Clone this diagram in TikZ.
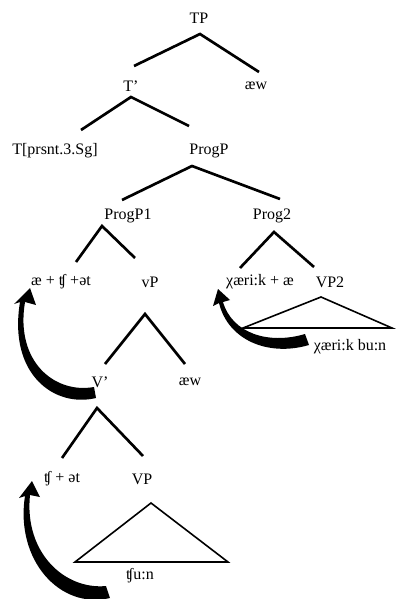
\documentclass[tikz,border=0pt]{standalone}
\usepackage{fontspec}
\setmainfont{Liberation Serif}
\begin{document}
\begin{tikzpicture}[x=0.75pt,y=-0.75pt,
  lab/.style={inner sep=1pt,font=\fontsize{12}{14}\selectfont},
  branch/.style={line width=2pt},
  tri/.style={line width=1.2pt},
  mover/.style={fill=black,draw=none}]
\useasboundingbox (0,0) rectangle (397,599);
% labels
\node[lab] (tp) at (199,18) {TP};
\node[lab] (tbar) at (131,86) {T’};
\node[lab] (aew1) at (256,86) {æw};
\node[lab] (t) at (55,151) {T[prsnt.3.Sg]};
\node[lab] (progp) at (209,151) {ProgP};
\node[lab] (progp1) at (128,216) {ProgP1};
\node[lab] (prog2) at (272,216) {Prog2};
\node[lab] (aech) at (61,282) {æ + ʧ +ət};
\node[lab] (vp) at (150,282) {vP};
\node[lab] (chaeri) at (260,282) {χæri:k + æ};
\node[lab] (vp2) at (330,282) {VP2};
\node[lab] (chbun) at (350,347) {χæri:k bu:n};
\node[lab] (vbar) at (100,382) {V’};
\node[lab] (aew2) at (190,382) {æw};
\node[lab] (chat) at (62,479) {ʧ + ət};
\node[lab] (vpl) at (142,479) {VP};
\node[lab] (chun) at (140,576) {ʧu:n};
% branch points
\coordinate (a1) at (200,34);
\coordinate (a2) at (131,97);
\coordinate (a3) at (192,166);
\coordinate (a4) at (102,226);
\coordinate (a5) at (274,232);
\coordinate (a6) at (145,314);
\coordinate (a7) at (97,408);
\draw[branch] (134,66) -- (a1) -- (259,72);
\draw[branch] (81,130) -- (a2) -- (189,126);
\draw[branch] (122,200) -- (a3) -- (280,199);
\draw[branch] (76,262) -- (a4) -- (135,258);
\draw[branch] (240,268) -- (a5) -- (314,267);
\draw[branch] (105,364) -- (a6) -- (185,364);
\draw[branch] (62,458) -- (a7) -- (143,456);
% triangles
\coordinate (r1) at (321,297);
\coordinate (r2) at (151,503);
\draw[tri] (243,328) -- (r1) -- (392,328) -- cycle;
\draw[tri] (75,562) -- (r2) -- (228,562) -- cycle;
% movement arrows
\fill[mover] (96,398) .. controls (55,408) and (8,375) .. (20,302)
  -- (14,304) -- (30,288) -- (36,305) -- (25,302)
  .. controls (15,362) and (55,394) .. (94,387) -- cycle;
\fill[mover] (309,345) .. controls (268,357) and (228,340) .. (219,303)
  -- (213,306) -- (218,289) -- (230,300) -- (223,302)
  .. controls (232,333) and (268,345) .. (305,334) -- cycle;
\fill[mover] (110,598) .. controls (60,610) and (15,560) .. (25,496)
  -- (19,498) -- (32,481) -- (40,497) -- (30,495)
  .. controls (24,553) and (65,590) .. (106,586) -- cycle;
\end{tikzpicture}
\end{document}
